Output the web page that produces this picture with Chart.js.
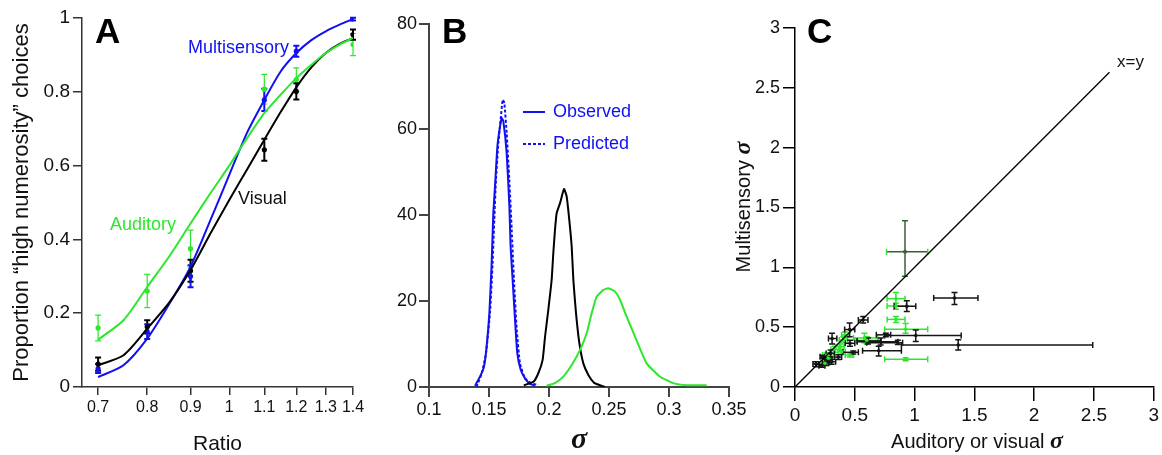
<!DOCTYPE html>
<html><head><meta charset="utf-8">
<script src="https://cdn.jsdelivr.net/npm/chart.js@4.4.1/dist/chart.umd.min.js"></script>
<style>
html,body{margin:0;padding:0;background:#fff;}
#wrap{position:relative;width:1162px;height:455px;overflow:hidden;background:#fff;}
canvas{position:absolute;top:0;}
</style></head><body>
<div id="wrap">
<canvas id="cA" width="372" height="455" style="left:0px"></canvas>
<canvas id="cB" width="390" height="455" style="left:370px"></canvas>
<canvas id="cC" width="434" height="455" style="left:728px"></canvas>
</div>
<script>
// ---------- Panel A data ----------
const ratioTicks = [0.7, 0.8, 0.9, 1, 1.1, 1.2, 1.3, 1.4];
const ratioTickLabels = ['0.7', '0.8', '0.9', '1', '1.1', '1.2', '1.3', '1.4'];
const ratioCurve = [0.7, 0.75, 0.8, 0.85, 0.9, 0.95, 1.0, 1.05, 1.1, 1.15, 1.2, 1.25, 1.3, 1.35, 1.4];
const multiFit = [0.027, 0.059, 0.131, 0.226, 0.326, 0.452, 0.575, 0.69, 0.778, 0.855, 0.905, 0.94, 0.964, 0.982, 0.997];
const visualFit = [0.059, 0.086, 0.158, 0.23, 0.317, 0.416, 0.507, 0.59, 0.67, 0.745, 0.812, 0.866, 0.905, 0.93, 0.945];
const auditoryFit = [0.128, 0.181, 0.271, 0.355, 0.443, 0.525, 0.6, 0.675, 0.742, 0.792, 0.837, 0.873, 0.905, 0.928, 0.946];
const ratioPoints = [0.7, 0.8, 0.9, 1.1, 1.2, 1.4];
const visualMean = [0.062, 0.163, 0.315, 0.643, 0.801, 0.955];
const visualErr = [0.018, 0.018, 0.03, 0.03, 0.022, 0.014];
const multiMean = [0.05, 0.15, 0.30, 0.778, 0.91, 0.997];
const multiErr = [0.012, 0.02, 0.03, 0.03, 0.015, 0.004];
const auditoryMean = [0.16, 0.26, 0.375, 0.807, 0.833, 0.928];
const auditoryErr = [0.035, 0.045, 0.05, 0.04, 0.032, 0.03];

// ---------- Panel B data ----------
const sigmaTicks = [0.1, 0.15, 0.2, 0.25, 0.3, 0.35];
const sigmaTickLabels = ['0.1', '0.15', '0.2', '0.25', '0.3', '0.35'];
const densityTickVals = [0, 20, 40, 60, 84.5];
const densityTickLabels = ['0', '20', '40', '60', '80'];
const observedX = [0.1383,0.1425,0.1458,0.148,0.1503,0.1522,0.1536,0.155,0.157,0.1592,0.1606,0.162,0.1647,0.167,0.168,0.1697,0.1717,0.1736,0.1764,0.18,0.1842,0.1883];
const observedY = [0.3,2.4,4.7,9.4,17.2,28.8,40.5,46.7,56,60.7,62.6,61.8,54.5,42,32.7,24.9,15.6,7.8,4,2,0.7,0.3];
const predictedX = [0.1396,0.144,0.1475,0.1508,0.153,0.1544,0.1558,0.1578,0.1597,0.1614,0.1628,0.1647,0.1669,0.1689,0.1708,0.1731,0.1758,0.18,0.1856,0.1911];
const predictedY = [0,3.2,7.8,17.2,28.8,39,48.3,56.8,62.2,66.9,66.1,59.1,48.3,36.6,24.9,13.3,5.5,2,0.9,0.4];
const visualSigmaX = [0.179,0.187,0.1911,0.1947,0.1967,0.1994,0.2022,0.2036,0.205,0.2064,0.2092,0.2125,0.2147,0.2169,0.2189,0.2203,0.2225,0.2253,0.2286,0.2328,0.2375,0.2425,0.2467];
const visualSigmaY = [0.4,1.2,3.2,6.3,11.7,17.9,24.9,31.2,36.6,40.5,42.8,46.1,44.4,38.9,32.7,24.9,17.2,10.2,5.5,2.8,1,0.4,0];
const auditorySigmaX = [0.198,0.205,0.2119,0.2189,0.2258,0.2314,0.2356,0.2397,0.2453,0.2494,0.255,0.2592,0.2647,0.2717,0.2814,0.2925,0.3036,0.3147,0.3314];
const auditorySigmaY = [0.3,0.9,2.4,5.1,8.6,12.5,17.2,21,22.6,23,22.2,20.3,16.4,11.7,5.5,2.4,0.9,0.4,0.4];

// ---------- Panel C data ----------
const cTicks = [0, 0.5, 1, 1.5, 2, 2.5, 3];
const cTickLabels = ['0', '0.5', '1', '1.5', '2', '2.5', '3'];
const identityLine = [0, 2.63];
const cBlackX  = [1.334,0.935,0.57,0.457,0.31,1.01,0.76,1.365,0.86,0.716,0.61,0.70,0.46,0.487,0.298,0.362,0.26,0.223,0.175,0.306,0.231,0.28];
const cBlackY  = [0.744,0.675,0.56,0.48,0.405,0.43,0.436,0.35,0.37,0.378,0.385,0.303,0.365,0.29,0.28,0.25,0.205,0.178,0.192,0.211,0.253,0.23];
const cBlackXLo= [1.16,0.83,0.53,0.415,0.28,0.75,0.68,0.89,0.6,0.52,0.52,0.565,0.42,0.4,0.26,0.33,0.23,0.2,0.15,0.28,0.21,0.25];
const cBlackXHi= [1.53,1.01,0.61,0.5,0.35,1.39,0.80,2.49,0.9,0.86,0.72,0.89,0.5,0.53,0.33,0.39,0.29,0.25,0.2,0.34,0.25,0.31];
const cBlackYLo= [0.69,0.63,0.535,0.42,0.36,0.38,0.42,0.31,0.355,0.35,0.36,0.26,0.34,0.275,0.25,0.23,0.18,0.165,0.17,0.19,0.24,0.21];
const cBlackYHi= [0.79,0.72,0.59,0.535,0.45,0.476,0.45,0.395,0.39,0.41,0.41,0.34,0.39,0.3,0.31,0.27,0.23,0.19,0.21,0.23,0.265,0.25];
const cGreenX  = [0.844,0.844,0.844,0.925,0.925,0.58,0.6,0.418,0.404,0.376,0.334,0.39,0.46,0.265,0.28,0.25];
const cGreenY  = [0.738,0.677,0.565,0.482,0.231,0.41,0.39,0.434,0.393,0.337,0.315,0.295,0.267,0.267,0.24,0.198];
const cGreenXLo= [0.77,0.77,0.77,0.75,0.75,0.49,0.5,0.39,0.37,0.34,0.3,0.36,0.42,0.23,0.25,0.22];
const cGreenXHi= [0.92,0.93,0.92,1.11,1.11,0.69,0.7,0.45,0.44,0.41,0.37,0.42,0.49,0.3,0.31,0.28];
const cGreenYLo= [0.68,0.65,0.54,0.45,0.22,0.37,0.36,0.41,0.37,0.31,0.29,0.275,0.25,0.25,0.225,0.185];
const cGreenYHi= [0.79,0.70,0.59,0.53,0.245,0.45,0.42,0.46,0.42,0.36,0.34,0.315,0.285,0.285,0.255,0.21];
const cOutlierX = [0.92], cOutlierY = [1.13];
const cOutlierXLo = [0.765], cOutlierXHi = [1.11], cOutlierYLo = [0.925], cOutlierYHi = [1.39];

// ---------- styling ----------
const SANS = "'Liberation Sans', Arial, Helvetica, sans-serif";
const BLUE = '#1010f0', GREEN = '#2ee62e', BLACK = '#000000', DKGREEN = '#3a603a';
const zip = (xs, ys) => xs.map((x, i) => ({x, y: ys[i]}));

const errorBarPlugin = {
  id: 'errbars',
  beforeDatasetsDraw(chart) {
    const ctx = chart.ctx, xs = chart.scales.x, ys = chart.scales.y;
    chart.data.datasets.forEach(ds => {
      const eb = ds.errorBars; if (!eb) return;
      ctx.save();
      ctx.lineWidth = eb.width || 1;
      ctx.lineCap = 'butt';
      ds.data.forEach((p, j) => {
        const px = xs.getPixelForValue(p.x), py = ys.getPixelForValue(p.y);
        const c = eb.cap || 3;
        if (eb.yLo) {
          const y1 = ys.getPixelForValue(eb.yLo[j]), y2 = ys.getPixelForValue(eb.yHi[j]);
          ctx.strokeStyle = eb.color;
          ctx.beginPath();
          ctx.moveTo(px, y1); ctx.lineTo(px, y2);
          ctx.moveTo(px - c, y1); ctx.lineTo(px + c, y1);
          ctx.moveTo(px - c, y2); ctx.lineTo(px + c, y2);
          ctx.stroke();
        }
        if (eb.xLo) {
          const x1 = xs.getPixelForValue(eb.xLo[j]), x2 = xs.getPixelForValue(eb.xHi[j]);
          ctx.strokeStyle = eb.color;
          ctx.beginPath();
          ctx.moveTo(x1, py); ctx.lineTo(x2, py);
          ctx.stroke();
          ctx.strokeStyle = eb.capColor || eb.color;
          ctx.beginPath();
          ctx.moveTo(x1, py - c); ctx.lineTo(x1, py + c);
          ctx.moveTo(x2, py - c); ctx.lineTo(x2, py + c);
          ctx.stroke();
        }
      });
      ctx.restore();
    });
  }
};

function textPlugin(id, items) {
  return {
    id,
    afterDraw(chart) {
      const ctx = chart.ctx;
      items.forEach(it => {
        ctx.save();
        if (it.line) {
          ctx.strokeStyle = it.color; ctx.lineWidth = it.width || 2;
          ctx.setLineDash(it.dash || []);
          ctx.beginPath(); ctx.moveTo(it.x1, it.y); ctx.lineTo(it.x2, it.y); ctx.stroke();
          ctx.restore(); return;
        }
        ctx.translate(it.x, it.y);
        if (it.rot) ctx.rotate(it.rot);
        ctx.fillStyle = it.color || '#000';
        ctx.textBaseline = it.baseline || 'middle';
        const parts = it.parts || [{text: it.text, font: it.font}];
        let total = 0;
        parts.forEach(p => { ctx.font = p.font; p.w = ctx.measureText(p.text).width; total += p.w; });
        let x = it.align === 'center' ? -total / 2 : 0;
        ctx.textAlign = 'left';
        parts.forEach(p => { ctx.font = p.font; ctx.fillText(p.text, x, 0); x += p.w; });
        ctx.restore();
      });
    }
  };
}

function axisStyle(o) {
  return Object.assign({
    grid: {drawOnChartArea: false, drawTicks: true, tickLength: o.tickLength, color: o.color, lineWidth: o.lw},
    border: {display: true, color: o.color, width: o.lw},
  }, o.extra);
}

Chart.defaults.font.family = SANS;

// ---------- Panel A ----------
const lineDS = (xs, ys, col) => ({data: zip(xs, ys), showLine: true, borderColor: col, borderWidth: 2, pointRadius: 0, fill: false, tension: 0.25});
const ptDS = (xs, m, e, col, w) => ({
  data: zip(xs, m), showLine: false, pointRadius: 2.6, pointBackgroundColor: col, pointBorderColor: col, pointBorderWidth: 0,
  errorBars: {yLo: m.map((v, i) => v - e[i]), yHi: m.map((v, i) => v + e[i]), color: col, width: w, cap: 3}
});

new Chart(document.getElementById('cA'), {
  type: 'scatter',
  data: {datasets: [
    lineDS(ratioCurve, auditoryFit, GREEN),
    lineDS(ratioCurve, visualFit, BLACK),
    lineDS(ratioCurve, multiFit, BLUE),
    ptDS(ratioPoints, auditoryMean, auditoryErr, GREEN, 1.2),
    ptDS(ratioPoints, visualMean, visualErr, BLACK, 2),
    ptDS(ratioPoints, multiMean, multiErr, BLUE, 2),
  ]},
  options: {
    responsive: false, animation: false, devicePixelRatio: 1,
    layout: {padding: {left: 0, right: 19, top: 18, bottom: 0}},
    plugins: {legend: {display: false}, tooltip: {enabled: false}},
    scales: {
      x: axisStyle({tickLength: 8, color: '#333', lw: 1.5, extra: {
        type: 'logarithmic', min: 0.672, max: 1.4,
        afterBuildTicks: s => { s.ticks = ratioTicks.map(v => ({value: v})); },
        afterFit: s => { s.height = 68; },
        ticks: {autoSkip: false, maxRotation: 0, padding: 3, color: '#111', font: {size: 16},
          callback: (v, i) => ratioTickLabels[i]},
        title: {display: true, text: 'Ratio', color: '#111', font: {size: 21, lineHeight: 1.05}, padding: {top: 0, bottom: 0}}
      }}),
      y: axisStyle({tickLength: 9, color: '#333', lw: 1.5, extra: {
        min: 0, max: 1,
        afterBuildTicks: s => { s.ticks = [0, 0.2, 0.4, 0.6, 0.8, 1].map(v => ({value: v})); },
        afterFit: s => { s.width = 82; },
        ticks: {padding: 3, color: '#111', font: {size: 19}, callback: v => String(+v.toFixed(1))},
        title: {display: true, text: 'Proportion “high numerosity” choices', color: '#111', font: {size: 22, lineHeight: 1.2}, padding: {top: 9, bottom: 0}}
      }})
    }
  },
  plugins: [errorBarPlugin, textPlugin('txtA', [
    {text: 'A', x: 95, y: 43, baseline: 'alphabetic', font: 'bold 35px ' + SANS, color: '#000'},
    {text: 'Multisensory', x: 188, y: 48, font: '18px ' + SANS, color: BLUE},
    {text: 'Auditory', x: 110, y: 225, font: '18px ' + SANS, color: GREEN},
    {text: 'Visual', x: 238, y: 199, font: '18px ' + SANS, color: '#111'},
  ])]
});

// ---------- Panel B ----------
const curveDS = (xs, ys, col, dash) => ({data: zip(xs, ys), showLine: true, borderColor: col, borderWidth: 2, borderDash: dash || [], pointRadius: 0, fill: false, tension: 0.15});
new Chart(document.getElementById('cB'), {
  type: 'scatter',
  data: {datasets: [
    curveDS(auditorySigmaX, auditorySigmaY, GREEN),
    curveDS(visualSigmaX, visualSigmaY, BLACK),
    curveDS(observedX, observedY, BLUE),
    curveDS(predictedX, predictedY, BLUE, [3, 2]),
  ]},
  options: {
    responsive: false, animation: false, devicePixelRatio: 1,
    layout: {padding: {left: 0, right: 31, top: 24, bottom: 0}},
    plugins: {legend: {display: false}, tooltip: {enabled: false}},
    scales: {
      x: axisStyle({tickLength: 10, color: '#444', lw: 2, extra: {
        min: 0.1, max: 0.35,
        afterBuildTicks: s => { s.ticks = sigmaTicks.map(v => ({value: v})); },
        afterFit: s => { s.height = 68; },
        ticks: {autoSkip: false, maxRotation: 0, padding: 2, color: '#111', font: {size: 18},
          callback: (v, i) => sigmaTickLabels[i]},
        title: {display: true, text: 'σ', color: '#111', font: {family: "'Liberation Serif', 'DejaVu Serif', serif", size: 30, weight: 'bold', style: 'italic', lineHeight: 1.0}, padding: {top: 0, bottom: 0}}
      }}),
      y: axisStyle({tickLength: 10, color: '#444', lw: 2, extra: {
        min: 0, max: 84.5,
        afterBuildTicks: s => { s.ticks = densityTickVals.map(v => ({value: v})); },
        afterFit: s => { s.width = 59; },
        ticks: {padding: 2, color: '#111', font: {size: 18}, callback: (v, i) => densityTickLabels[i]},
      }})
    }
  },
  plugins: [textPlugin('txtB', [
    {text: 'B', x: 72, y: 43, baseline: 'alphabetic', font: 'bold 35px ' + SANS, color: '#000'},
    {line: true, x1: 153, x2: 175, y: 112, color: BLUE, width: 2},
    {text: 'Observed', x: 183, y: 112, font: '18px ' + SANS, color: BLUE},
    {line: true, x1: 153, x2: 175, y: 144, color: BLUE, width: 2, dash: [3, 2]},
    {text: 'Predicted', x: 183, y: 144, font: '18px ' + SANS, color: BLUE},
  ])]
});

// ---------- Panel C ----------
const errDS = (xs, ys, xl, xh, yl, yh, col, capCol, r) => ({
  data: zip(xs, ys), showLine: false, pointRadius: r, pointBackgroundColor: col, pointBorderColor: col, pointBorderWidth: 0,
  errorBars: {xLo: xl, xHi: xh, yLo: yl, yHi: yh, color: col, capColor: capCol || col, width: 1.5, cap: 3}
});
const SIG = "bold italic 24px 'Liberation Serif', 'DejaVu Serif', serif";
new Chart(document.getElementById('cC'), {
  type: 'scatter',
  data: {datasets: [
    {data: zip(identityLine, identityLine), showLine: true, borderColor: '#000', borderWidth: 1.3, pointRadius: 0, fill: false},
    errDS(cGreenX, cGreenY, cGreenXLo, cGreenXHi, cGreenYLo, cGreenYHi, GREEN, GREEN, 1.8),
    errDS(cBlackX, cBlackY, cBlackXLo, cBlackXHi, cBlackYLo, cBlackYHi, '#151515', '#151515', 1.8),
    errDS(cOutlierX, cOutlierY, cOutlierXLo, cOutlierXHi, cOutlierYLo, cOutlierYHi, DKGREEN, GREEN, 2),
  ]},
  options: {
    responsive: false, animation: false, devicePixelRatio: 1,
    layout: {padding: {left: 0, right: 8, top: 28, bottom: 0}},
    plugins: {legend: {display: false}, tooltip: {enabled: false}},
    scales: {
      x: axisStyle({tickLength: 14, color: '#000', lw: 1.5, extra: {
        min: 0, max: 3,
        afterBuildTicks: s => { s.ticks = cTicks.map(v => ({value: v})); },
        afterFit: s => { s.height = 68; },
        ticks: {autoSkip: false, maxRotation: 0, padding: 3, color: '#111', font: {size: 19}, callback: (v, i) => cTickLabels[i]},
      }}),
      y: axisStyle({tickLength: 12, color: '#000', lw: 1.5, extra: {
        min: 0, max: 3,
        afterBuildTicks: s => { s.ticks = cTicks.map(v => ({value: v})); },
        afterFit: s => { s.width = 67; },
        ticks: {padding: 3, color: '#111', font: {size: 18}, callback: (v, i) => cTickLabels[i]},
      }})
    }
  },
  plugins: [errorBarPlugin, textPlugin('txtC', [
    {text: 'C', x: 79, y: 43, baseline: 'alphabetic', font: 'bold 35px ' + SANS, color: '#000'},
    {text: 'x=y', x: 389, y: 62, font: '17px ' + SANS, color: '#111'},
    {parts: [{text: 'Auditory or visual ', font: '20px ' + SANS}, {text: 'σ', font: SIG}], x: 249, y: 448, align: 'center', baseline: 'alphabetic', color: '#111'},
    {parts: [{text: 'Multisensory ', font: '20px ' + SANS}, {text: 'σ', font: SIG}], x: 22, y: 207, rot: -Math.PI / 2, align: 'center', baseline: 'alphabetic', color: '#111'},
  ])]
});
</script>
</body></html>
